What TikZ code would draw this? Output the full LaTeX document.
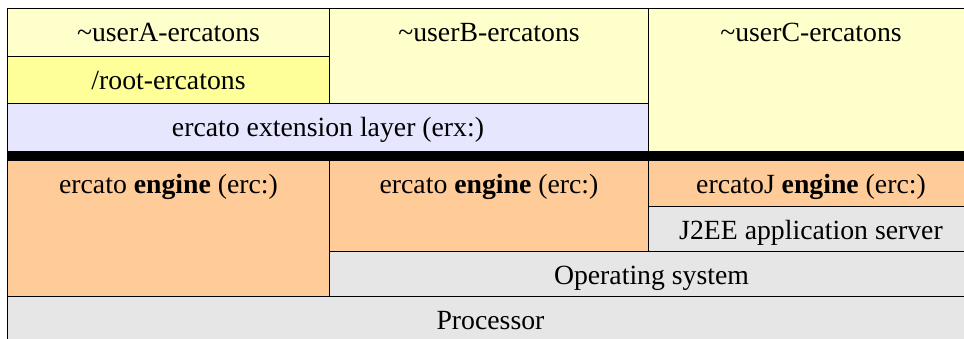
\documentclass[tikz,border=0pt]{standalone}
\usepackage{fontspec}
\setmainfont{LiberationSerif}[Extension=.ttf,UprightFont=*-Regular,BoldFont=*-Bold]
\usepackage{tikz}
\usetikzlibrary{positioning}
\definecolor{userfill}{HTML}{FFFFCC}
\definecolor{rootfill}{HTML}{FFFF99}
\definecolor{extfill}{HTML}{E6E6FF}
\definecolor{enginefill}{HTML}{FFCC99}
\definecolor{basefill}{HTML}{E6E6E6}

\begin{document}
\begin{tikzpicture}[x=1pt,y=-1pt,% one unit = one pixel of the layer chart
					every node/.style={
						align=center,		% text centred across the cell
						font=\rmfamily\fontsize{27.75}{33}\selectfont
						},
					layer/.style={draw,line width=1pt,anchor=north west,inner sep=0pt,
						text height=33pt}	% baseline sits 33 below the cell top
					]
\useasboundingbox (0,0) rectangle (964,338);
\clip (0,0) rectangle (964,338);
% user level
\node[layer,fill=userfill,minimum width=322pt,text depth=15pt](UA) at (7,8){\textasciitilde userA-ercatons};
\node[layer,fill=rootfill,minimum width=322pt,text depth=14pt](RT) at (7,56){/root-ercatons};
\node[layer,fill=userfill,minimum width=319pt,text depth=62pt](UB) at (329,8){\textasciitilde userB-ercatons};
\node[layer,fill=userfill,minimum width=325pt,text depth=110pt](UC) at (648,8){\textasciitilde userC-ercatons};
\node[layer,fill=extfill,minimum width=641pt,text depth=15pt](EX) at (7,103){ercato extension layer (erx:)};
% separator
\node[anchor=north west,fill=black,inner sep=0pt,minimum width=966pt,minimum height=9pt](BAR) at (7,151){};
% engines and platform
\node[layer,fill=enginefill,minimum width=322pt,text depth=103pt](EA) at (7,160){ercato \textbf{engine} (erc:)};
\node[layer,fill=enginefill,minimum width=319pt,text depth=58pt](EB) at (329,160){ercato \textbf{engine} (erc:)};
\node[layer,fill=enginefill,minimum width=325pt,text depth=13pt](EJ) at (648,160){ercatoJ \textbf{engine} (erc:)};
\node[layer,fill=basefill,minimum width=325pt,text depth=12pt](AS) at (648,206){J2EE application server};
\node[layer,fill=basefill,minimum width=644pt,text depth=12pt](OS) at (329,251){Operating system};
\node[layer,fill=basefill,minimum width=966pt,text depth=12pt](PR) at (7,296){Processor};
\end{tikzpicture}
\end{document}
